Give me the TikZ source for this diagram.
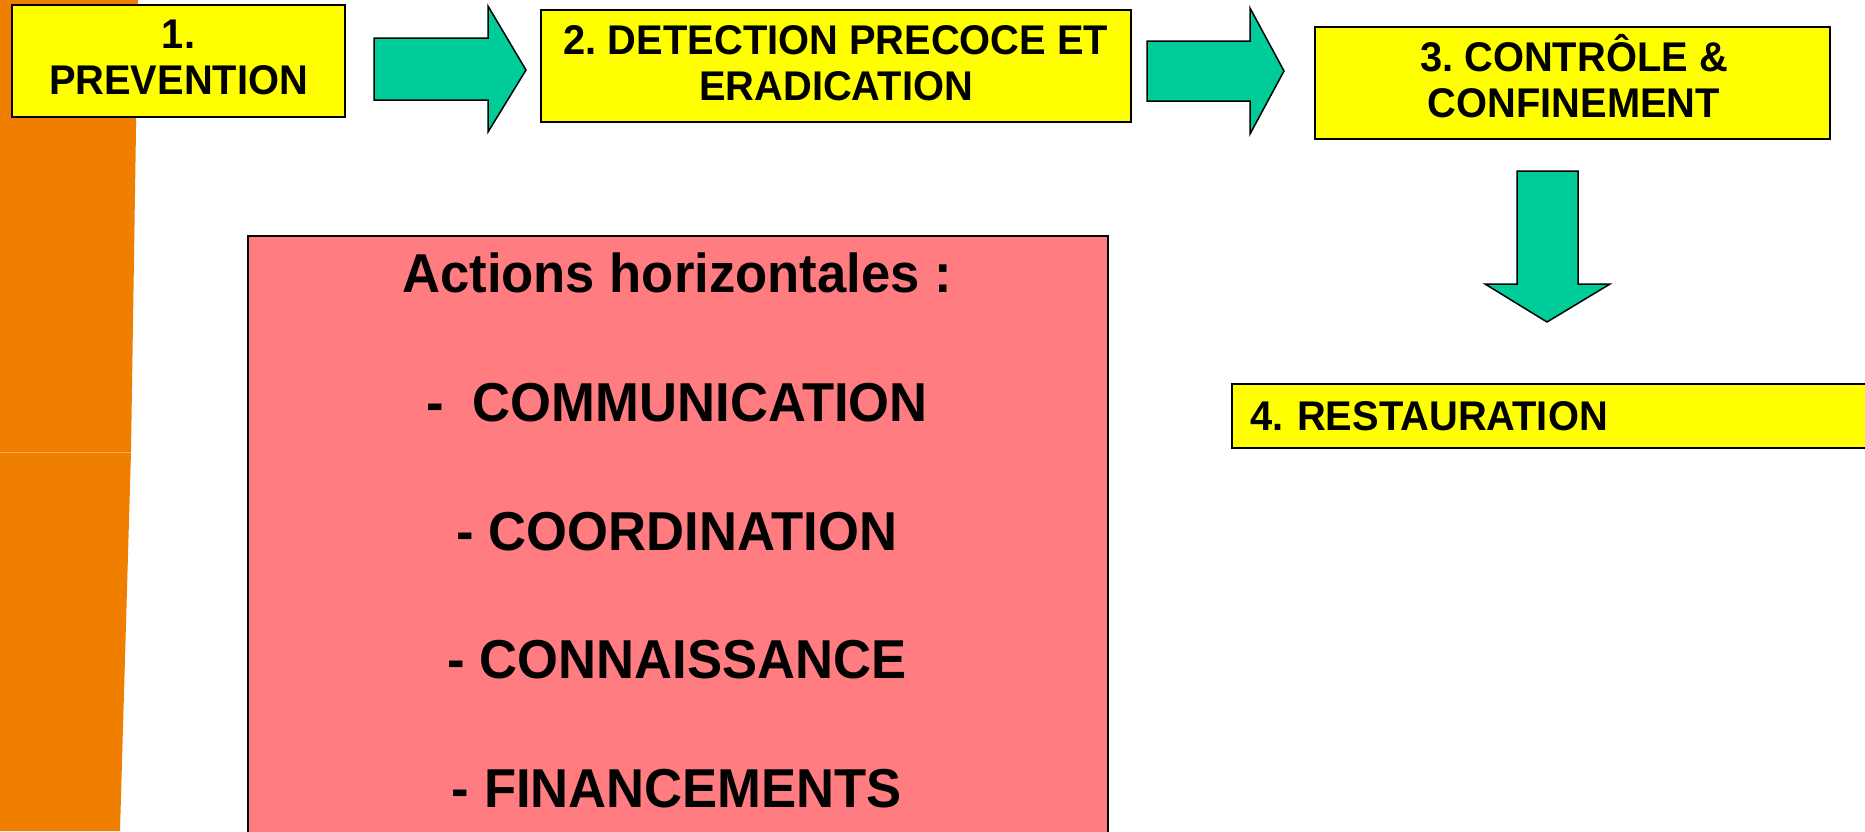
\documentclass[tikz,border=0pt]{standalone}
\usepackage{fontspec}
\setmainfont{Liberation Sans}[FakeStretch=0.96]
\definecolor{boxyellow}{HTML}{FFFF00}
\definecolor{arrowgreen}{HTML}{00CC99}
\definecolor{pinkfill}{HTML}{FF7C80}
\definecolor{stripe}{HTML}{F07F00}
\definecolor{stripeline}{HTML}{F8A850}
\tikzset{
  ybox/.style={draw=black, line width=2.2pt, fill=boxyellow, inner sep=0pt},
  boxlabel/.style={inner sep=0pt, align=center,
    font=\fontsize{41.5}{45.5}\selectfont\bfseries},
  blockarrow/.style={draw=black, line width=1.5pt, fill=arrowgreen, line join=miter},
  bigtext/.style={inner sep=0pt, anchor=base, font=\fontsize{54.8}{58}\selectfont\bfseries},
}
\begin{document}
\frenchspacing
\begin{tikzpicture}[x=1pt, y=-1pt]
\useasboundingbox (0,0) rectangle (1865,831);
% orange strip
\fill[stripe] (0,0) -- (138,0) -- (131,452) -- (120,831) -- (0,831) -- cycle;
\draw[stripeline, line width=1pt] (0,452) -- (131,452);
% boxes
\node[ybox, minimum width=333pt, minimum height=112pt] (b1) at (178.5,61) {};
\node[boxlabel] (t1) at (178.5,57.5) {1.\\PREVENTION};
\node[ybox, minimum width=590pt, minimum height=112pt] (b2) at (836,66) {};
\node[boxlabel] (t2) at (836,63) {2. DETECTION PRECOCE ET\\ERADICATION};
\node[ybox, minimum width=515pt, minimum height=112pt] (b3) at (1572.5,83) {};
\node[boxlabel] (t3) at (1574,76) {3. CONTR\^OLE \&\\CONFINEMENT};
\node[ybox, anchor=north west, minimum height=64pt, text width=620pt, inner xsep=18pt, align=left,
  font=\fontsize{41.5}{45.5}\selectfont\bfseries] (b4) at (1231,383) {4. RESTAURATION};
% block arrows
\draw[blockarrow] (374,38) -- (488,38) -- (488,6) -- (526,70) -- (488,132) -- (488,100) -- (374,100) -- cycle;
\draw[blockarrow] (1147,41) -- (1250,41) -- (1250,8) -- (1284,71) -- (1250,134) -- (1250,101) -- (1147,101) -- cycle;
\draw[blockarrow] (1517,171) -- (1578,171) -- (1578,284) -- (1610,284) -- (1547,322) -- (1485,284) -- (1517,284) -- cycle;
% pink box
\node[draw=black, line width=2.2pt, fill=pinkfill, anchor=north west, minimum width=860pt, minimum height=620pt, inner sep=0pt] (pink) at (247,235) {};
\node[bigtext] (title) at (677,292) {Actions horizontales :};
\node[bigtext] (i1) at (677,421) {-\ \ COMMUNICATION};
\node[bigtext] (i2) at (677,550) {- COORDINATION};
\node[bigtext] (i3) at (677,678.5) {- CONNAISSANCE};
\node[bigtext] (i4) at (677,807) {- FINANCEMENTS};
\end{tikzpicture}
\end{document}
